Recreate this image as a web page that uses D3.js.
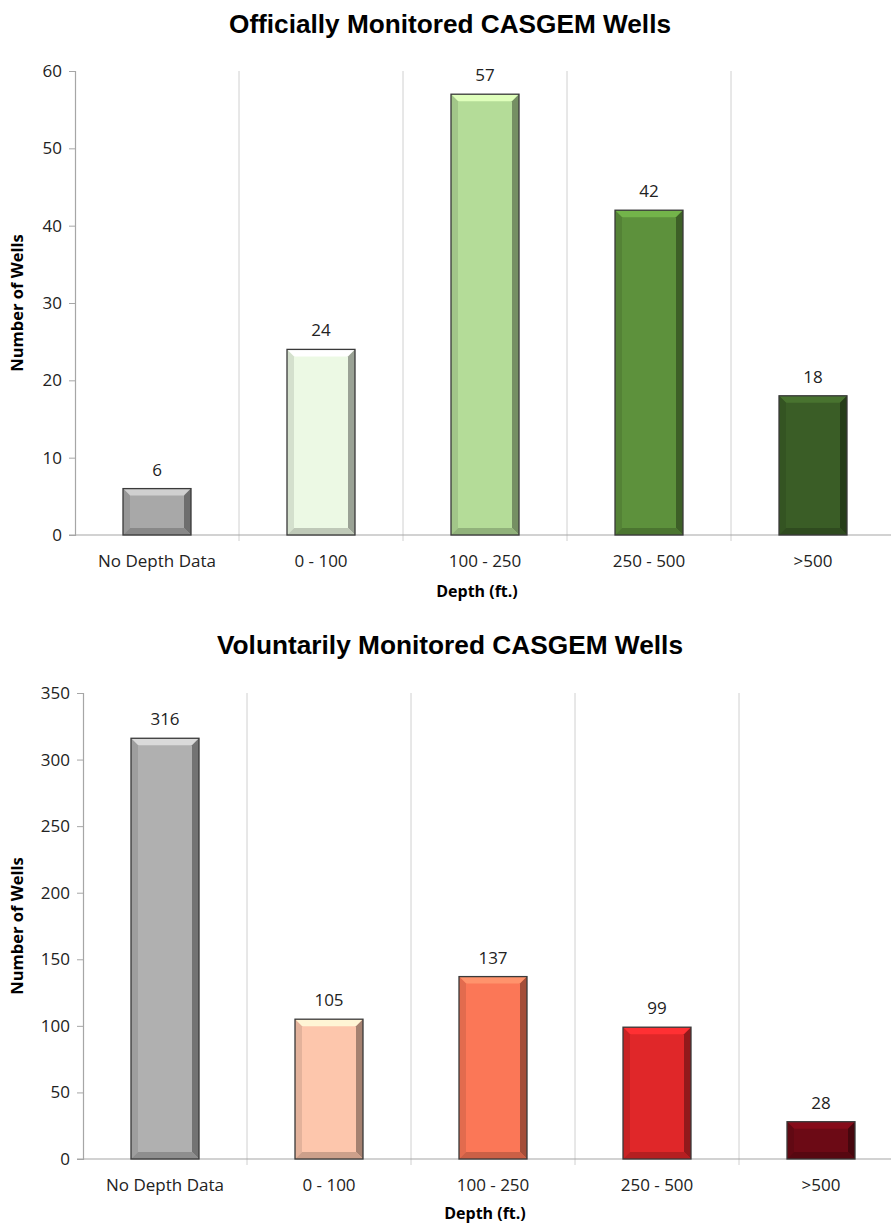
<!DOCTYPE html>
<html>
<head>
<meta charset="utf-8">
<script src="https://cdn.jsdelivr.net/npm/d3@7"></script>
<style>
  body { margin: 0; background: #fff; }
  svg { display: block; }
</style>
</head>
<body>
<script>
// data
const categories = ["No Depth Data", "0 - 100", "100 - 250", "250 - 500", ">500"];
const officialCounts = [6, 24, 57, 42, 18];
const voluntaryCounts = [316, 105, 137, 99, 28];
const officialTicks = [0, 10, 20, 30, 40, 50, 60];
const voluntaryTicks = [0, 50, 100, 150, 200, 250, 300, 350];
const officialColors = ["#a8a8a8", "#ecf9e4", "#b4dc98", "#5d913c", "#3a5d26"];
const voluntaryColors = ["#b0b0b0", "#fdc6ac", "#fb7757", "#e02729", "#6c0a15"];

const labelFont = "'Open Sans', 'Noto Sans', sans-serif";

const svg = d3.select("body").append("svg")
    .attr("width", 891)
    .attr("height", 1228);

function drawChart(opts) {
    const x = d3.scaleBand()
        .domain(categories)
        .range([opts.left, opts.left + 164 * 5]);

    const y = d3.scaleLinear()
        .domain([0, d3.max(opts.ticks)])
        .range([opts.bottom, opts.top]);

    const g = svg.append("g");

    // title
    g.append("text")
        .attr("x", 450)
        .attr("y", opts.titleY)
        .attr("text-anchor", "middle")
        .attr("textLength", opts.titleW)
        .attr("lengthAdjust", "spacingAndGlyphs")
        .style("font-family", "'Liberation Sans Narrow', 'Arial Narrow', 'Liberation Sans', sans-serif")
        .style("font-weight", "bold")
        .style("font-size", "25px")
        .style("fill", "#000")
        .text(opts.title);

    // vertical separators between categories
    const bounds = categories.slice(1).map(c => x(c));
    g.selectAll(".sep")
        .data(bounds)
        .enter().append("line")
        .attr("x1", d => d)
        .attr("x2", d => d)
        .attr("y1", y(d3.max(opts.ticks)))
        .attr("y2", y(0) + 6)
        .attr("stroke", "#d0d0d0")
        .attr("stroke-width", 1);

    // y axis
    const yAxis = g.append("g")
        .attr("transform", `translate(${opts.left},0)`)
        .call(d3.axisLeft(y).tickValues(opts.ticks).tickSize(6).tickPadding(7).tickFormat(d3.format("d")));
    yAxis.select(".domain").attr("stroke", "#a6a6a6").attr("stroke-width", 1.2);
    yAxis.selectAll(".tick line").attr("stroke", "#a6a6a6");
    yAxis.selectAll(".tick text")
        .style("font-family", labelFont)
        .style("font-size", "17px")
        .style("fill", "#222");

    // x axis line
    g.append("line")
        .attr("x1", opts.left - 6)
        .attr("x2", 891)
        .attr("y1", y(0))
        .attr("y2", y(0))
        .attr("stroke", "#a6a6a6")
        .attr("stroke-width", 1.2);

    // category labels
    g.selectAll(".cat")
        .data(categories)
        .enter().append("text")
        .attr("x", d => x(d) + x.bandwidth() / 2)
        .attr("y", y(0) + 32)
        .attr("text-anchor", "middle")
        .style("font-family", labelFont)
        .style("font-size", "17px")
        .style("fill", "#222")
        .text(d => d);

    // axis titles
    g.append("text")
        .attr("x", opts.left + 164 * 2.5 - 8)
        .attr("y", opts.xTitleY)
        .attr("text-anchor", "middle")
        .style("font-family", labelFont)
        .style("font-weight", "bold")
        .style("font-size", "16px")
        .style("fill", "#000")
        .text("Depth (ft.)");

    g.append("text")
        .attr("transform", `translate(23,${(y(0) + y(d3.max(opts.ticks))) / 2}) rotate(-90)`)
        .attr("text-anchor", "middle")
        .style("font-family", labelFont)
        .style("font-weight", "bold")
        .style("font-size", "16.5px")
        .style("fill", "#000")
        .text("Number of Wells");

    // bars with bevel
    const barW = 68;
    const bev = 7;
    const data = categories.map((c, i) => ({ cat: c, value: opts.values[i], color: opts.colors[i] }));

    const bars = g.selectAll(".bar")
        .data(data)
        .enter().append("g")
        .attr("class", "bar");

    bars.each(function(d) {
        const b = d3.select(this);
        const x0 = x(d.cat) + x.bandwidth() / 2 - barW / 2;
        const x1 = x0 + barW;
        const y0 = y(d.value);
        const y1 = y(0);
        const c = d3.color(d.color);
        const e = Math.min(bev, (y1 - y0) / 2);

        b.append("rect")
            .attr("x", x0).attr("y", y0)
            .attr("width", barW).attr("height", y1 - y0)
            .attr("fill", d.color);
        // top highlight
        b.append("polygon")
            .attr("points", [[x0, y0], [x1, y0], [x1 - e, y0 + e], [x0 + e, y0 + e]].join(" "))
            .attr("fill", c.brighter(0.6));
        // left edge
        b.append("polygon")
            .attr("points", [[x0, y0], [x0 + e, y0 + e], [x0 + e, y1 - e], [x0, y1]].join(" "))
            .attr("fill", c.darker(0.3));
        // right shadow
        b.append("polygon")
            .attr("points", [[x1, y0], [x1 - e, y0 + e], [x1 - e, y1 - e], [x1, y1]].join(" "))
            .attr("fill", c.darker(1.2));
        // bottom shadow
        b.append("polygon")
            .attr("points", [[x0, y1], [x0 + e, y1 - e], [x1 - e, y1 - e], [x1, y1]].join(" "))
            .attr("fill", c.darker(0.6));
        b.append("rect")
            .attr("x", x0).attr("y", y0)
            .attr("width", barW).attr("height", y1 - y0)
            .attr("fill", "none")
            .attr("stroke", "#3a3a3a")
            .attr("stroke-width", 1.3);

        b.append("text")
            .attr("x", (x0 + x1) / 2)
            .attr("y", y0 - 13)
            .attr("text-anchor", "middle")
            .style("font-family", labelFont)
            .style("font-size", "17px")
            .style("fill", "#222")
            .text(d.value);
    });
}

drawChart({
    title: "Officially Monitored CASGEM Wells",
    titleY: 33,
    titleW: 442,
    values: officialCounts,
    colors: officialColors,
    ticks: officialTicks,
    left: 75,
    top: 71,
    bottom: 535,
    xTitleY: 597
});

drawChart({
    title: "Voluntarily Monitored CASGEM Wells",
    titleY: 654,
    titleW: 466,
    values: voluntaryCounts,
    colors: voluntaryColors,
    ticks: voluntaryTicks,
    left: 83,
    top: 693,
    bottom: 1159,
    xTitleY: 1219
});
</script>
</body>
</html>
